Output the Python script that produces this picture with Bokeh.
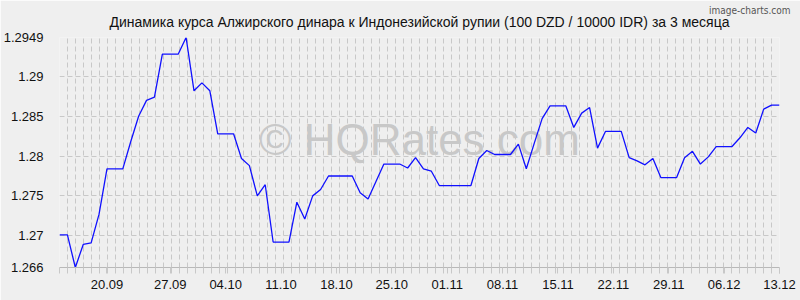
import numpy as np
from bokeh.plotting import figure
from bokeh.models import Range1d, FixedTicker, CustomJSTickFormatter, Label, ColumnDataSource, Title
from bokeh.embed import file_html
from bokeh.resources import INLINE

# --- data (one value per day, 92 points) ---
rates = [
    1.2701, 1.2701, 1.2660, 1.2689, 1.2691, 1.2727, 1.2784, 1.2784, 1.2784, 1.2818,
    1.2850, 1.2870, 1.2874, 1.2928, 1.2928, 1.2928, 1.2949, 1.2882, 1.2892, 1.2882,
    1.2828, 1.2828, 1.2828, 1.2797, 1.2788, 1.2750, 1.2764, 1.2692, 1.2692, 1.2692,
    1.2742, 1.2721, 1.2750, 1.2758, 1.2775, 1.2775, 1.2775, 1.2775, 1.2754, 1.2746,
    1.2768, 1.2790, 1.2790, 1.2790, 1.2785, 1.2798, 1.2784, 1.2781, 1.2763, 1.2763,
    1.2763, 1.2763, 1.2763, 1.2797, 1.2807, 1.2802, 1.2802, 1.2802, 1.2815, 1.2784,
    1.2816, 1.2847, 1.2863, 1.2863, 1.2863, 1.2836, 1.2854, 1.2861, 1.2810, 1.2831,
    1.2831, 1.2831, 1.2798, 1.2794, 1.2789, 1.2797, 1.2773, 1.2773, 1.2773, 1.2798,
    1.2806, 1.2790, 1.2799, 1.2812, 1.2812, 1.2812, 1.2823, 1.2836, 1.2829, 1.2859,
    1.2864, 1.2864,
]
day_index = list(range(len(rates)))

x_tick_positions = [6, 14, 21, 28, 35, 42, 49, 56, 63, 70, 77, 84, 91]
x_tick_labels = ["20.09", "27.09", "04.10", "11.10", "18.10", "25.10", "01.11",
                 "08.11", "15.11", "22.11", "29.11", "06.12", "13.12"]
y_ticks = [1.266, 1.27, 1.275, 1.28, 1.285, 1.29, 1.2949]

title_text = "Динамика курса Алжирского динара к Индонезийской рупии (100 DZD / 10000 IDR) за 3 месяца"
credit_text = "image-charts.com"

BG = "#efefef"
GRID = "#c8c8c8"
FONT = "Liberation Sans"

x_max = len(rates) - 1
p = figure(width=800, height=300, output_backend="svg", toolbar_location=None, title=None,
           x_range=Range1d(0, x_max), y_range=Range1d(min(y_ticks), max(y_ticks)),
           min_border_left=59, min_border_right=21, min_border_top=37, min_border_bottom=33,
           background_fill_color=BG, border_fill_color=BG, outline_line_color=None)

# main title (nearest the frame)
p.add_layout(Title(text=title_text, align="center", text_font=FONT, text_font_size="14px",
                   text_font_style="normal", text_color="#111111", standoff=16), "above")
# credit line (outermost): an empty first line plus a negative standoff keeps its panel small
p.add_layout(Title(text="\n" + credit_text, align="right", text_font="DejaVu Sans Condensed",
                   text_font_size="10px", text_font_style="normal", text_color="#555555",
                   standoff=-25, offset=-11), "above")

# grids
grid_pos = list(np.linspace(0, x_max, 91))
p.xgrid.ticker = FixedTicker(ticks=grid_pos)
p.xgrid.grid_line_color = GRID
p.xgrid.grid_line_dash = "5 3"
p.ygrid.ticker = FixedTicker(ticks=y_ticks)
p.ygrid.grid_line_color = GRID
p.ygrid.grid_line_dash = "5 3"

# y axis
p.yaxis.ticker = FixedTicker(ticks=y_ticks)
p.yaxis.formatter = CustomJSTickFormatter(code="return String(Math.round(tick*10000)/10000);")
p.yaxis.axis_line_color = None
p.yaxis.major_tick_line_color = None
p.yaxis.minor_tick_line_color = None
p.yaxis.major_label_text_font = FONT
p.yaxis.major_label_text_font_size = "13px"
p.yaxis.major_label_text_color = "#111111"
p.yaxis.major_label_standoff = 10

# x axis
p.xaxis.ticker = FixedTicker(ticks=x_tick_positions, minor_ticks=grid_pos)
p.xaxis.major_label_overrides = {t: l for t, l in zip(x_tick_positions, x_tick_labels)}
p.xaxis.axis_line_color = "#b8b8b8"
p.xaxis.major_tick_line_color = GRID
p.xaxis.major_tick_in = 0
p.xaxis.major_tick_out = 6
p.xaxis.minor_tick_line_color = GRID
p.xaxis.minor_tick_in = 0
p.xaxis.minor_tick_out = 6
p.xaxis.major_label_text_font = FONT
p.xaxis.major_label_text_font_size = "13px"
p.xaxis.major_label_text_color = "#111111"
p.xaxis.major_label_standoff = 6

# watermark
p.add_layout(Label(x=x_max / 2, y=(min(y_ticks) + max(y_ticks)) / 2 + 0.0016,
                   text="© HQRates.com", text_font=FONT, text_font_size="44px",
                   text_color="#c8c8c8", text_align="center", text_baseline="middle",
                   level="underlay"))

src = ColumnDataSource(dict(x=day_index, y=rates))
p.line("x", "y", source=src, line_color="#1010ff", line_width=1.3)

open("out.html", "w").write(file_html(p, INLINE))
